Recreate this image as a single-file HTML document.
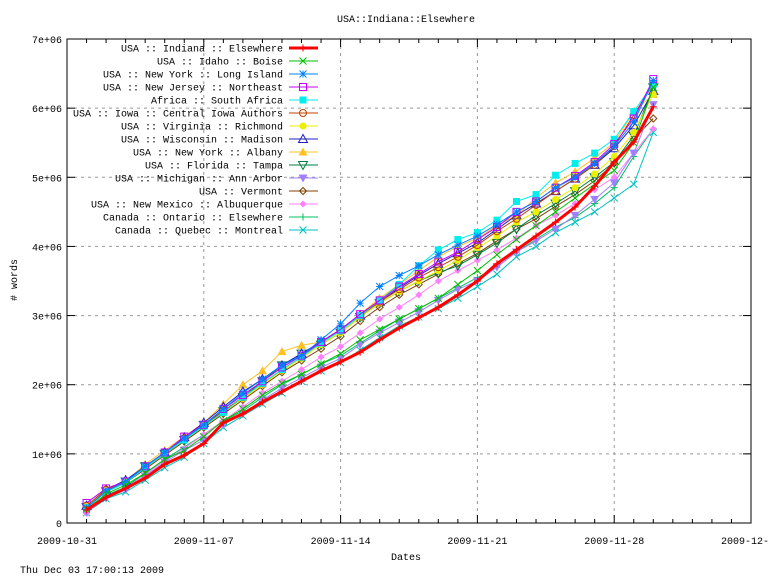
<!DOCTYPE html>
<html><head><meta charset="utf-8"><style>
body{margin:0;background:#fff}
svg{display:block;font-family:"Liberation Mono",monospace;font-size:10px}
</style></head><body>
<svg id="c" width="768" height="576">
<text x="406" y="22" text-anchor="middle">USA::Indiana::Elsewhere</text>
<text x="406" y="560" text-anchor="middle">Dates</text>
<text transform="translate(17,280) rotate(-90)" text-anchor="middle"># words</text>
<text x="20" y="573">Thu Dec 03 17:00:13 2009</text>
<g id="grid"></g><g id="series"></g><g id="legend"></g>
<rect x="67" y="39" width="684" height="484" fill="none" stroke="#000" stroke-width="1"/>
</svg>
<script>
const xTickLabels=["2009-10-31","2009-11-07","2009-11-14","2009-11-21","2009-11-28","2009-12-05"];
const yTickLabels=["0","1e+06","2e+06","3e+06","4e+06","5e+06","6e+06","7e+06"];
const days=[1,2,3,4,5,6,7,8,9,10,11,12,13,14,15,16,17,18,19,20,21,22,23,24,25,26,27,28,29,30];
const names=["USA :: Indiana :: Elsewhere","USA :: Idaho :: Boise","USA :: New York :: Long Island","USA :: New Jersey :: Northeast","Africa :: South Africa","USA :: Iowa :: Central Iowa Authors","USA :: Virginia :: Richmond","USA :: Wisconsin :: Madison","USA :: New York :: Albany","USA :: Florida :: Tampa","USA :: Michigan :: Ann Arbor","USA :: Vermont","USA :: New Mexico :: Albuquerque","Canada :: Ontario :: Elsewhere","Canada :: Quebec :: Montreal"];
const colors=["#ff0000","#00c000","#0080ff","#c000ff","#00eeee","#c04000","#eeee00","#2020c0","#ffc020","#008040","#a080ff","#804000","#ff80ff","#00c060","#00c0c0"];
const markers=["plus","x","star","osq","fsq","oci","fci","otr","ftr","odt","fdt","odi","fdi","plus","x"];
const s0=[0.19,0.37,0.5,0.65,0.85,0.98,1.15,1.45,1.58,1.75,1.9,2.05,2.2,2.33,2.47,2.65,2.82,2.97,3.12,3.3,3.5,3.75,3.95,4.15,4.35,4.57,4.87,5.22,5.51,6.02];
const s1=[0.2,0.42,0.55,0.72,0.92,1.05,1.25,1.48,1.65,1.85,2.02,2.15,2.3,2.45,2.65,2.8,2.95,3.1,3.25,3.45,3.65,3.88,4.1,4.3,4.5,4.7,4.9,5.1,5.5,6.3];
const s2=[0.22,0.46,0.6,0.82,1.02,1.22,1.42,1.65,1.88,2.08,2.28,2.42,2.65,2.88,3.18,3.42,3.58,3.72,3.88,4.02,4.15,4.32,4.5,4.65,4.85,5.0,5.2,5.45,5.8,6.4];
const s3=[0.29,0.5,0.6,0.82,1.02,1.25,1.42,1.65,1.85,2.05,2.25,2.42,2.62,2.8,3.02,3.22,3.42,3.6,3.78,3.92,4.1,4.28,4.5,4.65,4.85,5.02,5.22,5.48,5.85,6.42];
const s4=[0.22,0.45,0.58,0.8,1.0,1.2,1.4,1.6,1.82,2.02,2.22,2.4,2.6,2.78,3.0,3.22,3.45,3.72,3.95,4.1,4.2,4.38,4.65,4.75,5.03,5.2,5.35,5.55,5.95,6.35];
const s5=[0.25,0.48,0.6,0.8,1.02,1.22,1.42,1.62,1.82,2.02,2.22,2.4,2.62,2.78,3.0,3.2,3.38,3.55,3.7,3.85,4.02,4.22,4.4,4.6,4.8,4.98,5.18,5.45,5.9,6.35];
const s6=[0.24,0.47,0.6,0.8,1.0,1.2,1.4,1.6,1.8,2.0,2.2,2.38,2.58,2.75,2.98,3.18,3.35,3.5,3.65,3.8,3.98,4.15,4.35,4.5,4.68,4.85,5.05,5.3,5.65,6.2];
const s7=[0.25,0.48,0.62,0.82,1.02,1.24,1.45,1.68,1.9,2.08,2.28,2.45,2.62,2.8,3.0,3.2,3.4,3.58,3.75,3.9,4.05,4.25,4.45,4.62,4.8,4.98,5.18,5.42,5.75,6.25];
const s8=[0.24,0.5,0.6,0.85,1.05,1.25,1.45,1.72,2.0,2.2,2.48,2.57,2.62,2.78,3.02,3.25,3.45,3.65,3.85,4.0,4.12,4.3,4.45,4.7,4.92,5.08,5.28,5.5,5.95,6.2];
const s9=[0.23,0.46,0.6,0.82,1.0,1.2,1.42,1.62,1.82,2.05,2.28,2.45,2.58,2.75,2.98,3.18,3.35,3.5,3.62,3.72,3.88,4.05,4.25,4.45,4.62,4.8,5.0,5.22,5.6,6.3];
const s10=[0.16,0.36,0.48,0.68,0.88,1.05,1.2,1.42,1.58,1.78,1.95,2.1,2.25,2.38,2.58,2.75,2.9,3.05,3.22,3.38,3.5,3.7,3.92,4.08,4.25,4.45,4.68,4.92,5.35,6.05];
const s11=[0.22,0.45,0.58,0.78,0.98,1.18,1.38,1.58,1.78,1.98,2.18,2.35,2.52,2.7,2.92,3.12,3.3,3.45,3.6,3.75,3.9,4.08,4.25,4.4,4.58,4.75,4.95,5.2,5.55,5.85];
const s12=[0.14,0.38,0.5,0.7,0.9,1.08,1.28,1.48,1.68,1.88,2.05,2.22,2.4,2.55,2.75,2.95,3.12,3.3,3.5,3.65,3.8,3.95,4.12,4.3,4.45,4.62,4.82,5.0,5.35,5.7];
const s13=[0.18,0.4,0.52,0.72,0.92,1.1,1.28,1.48,1.62,1.82,2.0,2.15,2.3,2.42,2.6,2.78,2.95,3.1,3.25,3.4,3.55,3.7,3.92,4.1,4.28,4.42,4.62,4.85,5.3,5.7];
const s14=[0.15,0.35,0.45,0.62,0.8,0.95,1.15,1.38,1.55,1.72,1.88,2.05,2.2,2.32,2.5,2.68,2.85,2.98,3.1,3.25,3.42,3.6,3.85,4.0,4.2,4.35,4.5,4.7,4.9,5.65];
const seriesData=[s0,s1,s2,s3,s4,s5,s6,s7,s8,s9,s10,s11,s12,s13,s14];
const NS="http://www.w3.org/2000/svg";
const X0=67,X1=751,Y0=523,Y1=39;
function xs(d){return X0+(X1-X0)*d/35;}
function ys(v){return Y0-(Y0-Y1)*v/7;}
function mk(tag,attrs,parent){const e=document.createElementNS(NS,tag);for(const k in attrs)e.setAttribute(k,attrs[k]);parent.appendChild(e);return e;}
const grid=document.getElementById('grid');
yTickLabels.forEach((t,i)=>{const y=ys(i);
 if(i>0&&i<7){const l=mk('line',{x1:X0,x2:X1,y1:y,y2:y,stroke:'#999','stroke-dasharray':'3,4'},grid);}
 mk('line',{x1:X0,x2:X0+8,y1:y,y2:y,stroke:'#000'},grid);mk('line',{x1:X1-8,x2:X1,y1:y,y2:y,stroke:'#000'},grid);
 const tx=mk('text',{x:62,y:y+4,'text-anchor':'end'},grid);tx.textContent=t;
 
 
});
xTickLabels.forEach((t,i)=>{const x=xs(i*7);
 if(i>0&&i<5){const l=mk('line',{x1:x,x2:x,y1:Y1,y2:Y0,stroke:'#999','stroke-dasharray':'3,4'},grid);}
 const tx=mk('text',{x:x,y:544,'text-anchor':'middle'},grid);tx.textContent=t;
 
 
});
for(let d=0;d<=35;d++){const x=xs(d),L=d%7===0?8:4;
 mk('line',{x1:x,x2:x,y1:Y0,y2:Y0-L,stroke:'#000'},grid);mk('line',{x1:x,x2:x,y1:Y1,y2:Y1+L,stroke:'#000'},grid);}
function marker(g,type,x,y,c){const r=3.5;
 switch(type){
 case 'plus':mk('path',{d:`M${x-r} ${y}H${x+r}M${x} ${y-r}V${y+r}`,stroke:c,fill:'none'},g);break;
 case 'x':mk('path',{d:`M${x-r} ${y-r}L${x+r} ${y+r}M${x-r} ${y+r}L${x+r} ${y-r}`,stroke:c,fill:'none'},g);break;
 case 'star':mk('path',{d:`M${x-r} ${y}H${x+r}M${x} ${y-r}V${y+r}M${x-r} ${y-r}L${x+r} ${y+r}M${x-r} ${y+r}L${x+r} ${y-r}`,stroke:c,fill:'none'},g);break;
 case 'osq':mk('rect',{x:x-r,y:y-r,width:2*r,height:2*r,stroke:c,fill:'none'},g);break;
 case 'fsq':mk('rect',{x:x-r,y:y-r,width:2*r,height:2*r,fill:c},g);break;
 case 'oci':mk('circle',{cx:x,cy:y,r:r,stroke:c,fill:'none'},g);break;
 case 'fci':mk('circle',{cx:x,cy:y,r:r,fill:c},g);break;
 case 'otr':mk('path',{d:`M${x} ${y-r-1}L${x+r+1} ${y+r}L${x-r-1} ${y+r}Z`,stroke:c,fill:'none'},g);break;
 case 'ftr':mk('path',{d:`M${x} ${y-r-1}L${x+r+1} ${y+r}L${x-r-1} ${y+r}Z`,fill:c},g);break;
 case 'odt':mk('path',{d:`M${x} ${y+r+1}L${x+r+1} ${y-r}L${x-r-1} ${y-r}Z`,stroke:c,fill:'none'},g);break;
 case 'fdt':mk('path',{d:`M${x} ${y+r+1}L${x+r+1} ${y-r}L${x-r-1} ${y-r}Z`,fill:c},g);break;
 case 'odi':mk('path',{d:`M${x} ${y-r}L${x+r} ${y}L${x} ${y+r}L${x-r} ${y}Z`,stroke:c,fill:'none'},g);break;
 case 'fdi':mk('path',{d:`M${x} ${y-r}L${x+r} ${y}L${x} ${y+r}L${x-r} ${y}Z`,fill:c},g);break;
 }}
const sg=document.getElementById('series'),lg=document.getElementById('legend');
for(let i=seriesData.length-1;i>=0;i--){
 const g=mk('g',{},sg);
 
 
 const pts=seriesData[i].map((v,k)=>xs(days[k])+','+ys(v)).join(' ');
 mk('polyline',{points:pts,fill:'none',stroke:colors[i],'stroke-width':i===0?3:1},g);
 seriesData[i].forEach((v,k)=>marker(g,markers[i],xs(days[k]),ys(v),colors[i]));
}
names.forEach((n,i)=>{const y=48+i*13;
 const g=mk('g',{},lg);
 
 
 const t=mk('text',{x:283,y:y+3.5,'text-anchor':'end'},g);t.textContent=n;
 mk('line',{x1:289,x2:318,y1:y,y2:y,stroke:colors[i],'stroke-width':i===0?3:1},g);
 marker(g,markers[i],303,y,colors[i]);
});
</script>
</body></html>
